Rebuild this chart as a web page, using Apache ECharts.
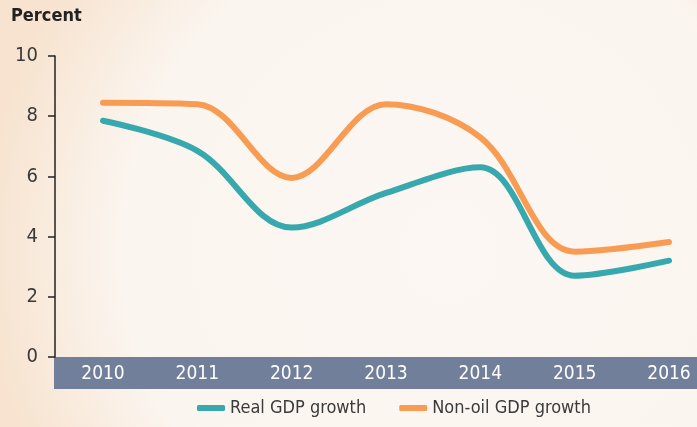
<!DOCTYPE html>
<html>
<head>
<meta charset="utf-8">
<script src="https://cdn.jsdelivr.net/npm/echarts@6/dist/echarts.min.js"></script>
<style>
  html, body { margin: 0; padding: 0; }
  #chart { width: 697px; height: 427px; }
</style>
</head>
<body>
<div id="chart"></div>
<script>
// data
var years = ['2010', '2011', '2012', '2013', '2014', '2015', '2016'];
var realGdp = [7.85, 6.85, 4.3, 5.45, 6.3, 2.7, 3.2];
var nonOilGdp = [8.45, 8.4, 5.95, 8.4, 7.3, 3.5, 3.82];
var yTicks = [0, 2, 4, 6, 8, 10];

var font = '"DejaVu Sans Condensed", "Liberation Sans Narrow", sans-serif';

var myChart = echarts.init(document.getElementById('chart'));
var option = {
  // peach edges, light centre
  backgroundColor: {
    type: 'radial', global: true, x: 450, y: 250, r: 470,
    colorStops: [
      { offset: 0, color: '#fbf7f3' },
      { offset: 0.7, color: '#fbf5ef' },
      { offset: 1, color: '#f7e3cf' }
    ]
  },
  textStyle: { fontFamily: font },
  graphic: [{
    // slate band behind the year labels
    type: 'rect', z: 0,
    shape: { x: 54, y: 357, width: 643, height: 32 },
    style: { fill: '#717f9a' }
  }, {
    type: 'text', z: 5, left: 11, top: 7,
    style: { text: 'Percent', fill: '#222', font: 'bold 18px ' + font }
  }],
  grid: { left: 103, right: 28, top: 56, bottom: 70 },
  legend: {
    bottom: 5, left: 192,
    itemWidth: 28, itemHeight: 6, itemGap: 33,
    icon: 'roundRect',
    textStyle: { color: '#3a3a3a', fontSize: 18, fontFamily: font },
    data: ['Real GDP growth', 'Non-oil GDP growth']
  },
  xAxis: {
    type: 'category',
    data: years,
    boundaryGap: false,
    z: 5,
    axisLine: { show: false },
    axisTick: { show: false },
    axisLabel: { color: '#fff', fontSize: 19, margin: 8, fontFamily: font }
  },
  yAxis: {
    type: 'value',
    min: 0, max: 10, interval: 2,
    offset: 48,
    splitLine: { show: false },
    axisLine: { show: true, lineStyle: { color: '#222', width: 1.5 } },
    axisTick: { show: true, length: 7, lineStyle: { color: '#222', width: 1.5 } },
    axisLabel: {
      color: '#3a3a3a', fontSize: 20, margin: 17, fontFamily: font,
      formatter: function (v) { return yTicks.indexOf(v) >= 0 ? String(v) : ''; }
    }
  },
  series: [{
    name: 'Real GDP growth',
    type: 'line',
    data: realGdp,
    smooth: 0.35,
    symbol: 'none',
    color: '#37a9ae',
    lineStyle: { width: 6, cap: 'round' }
  }, {
    name: 'Non-oil GDP growth',
    type: 'line',
    data: nonOilGdp,
    smooth: 0.35,
    symbol: 'none',
    color: '#f99c53',
    lineStyle: { width: 6, cap: 'round' }
  }]
};
option && myChart.setOption(option);
</script>
</body>
</html>
